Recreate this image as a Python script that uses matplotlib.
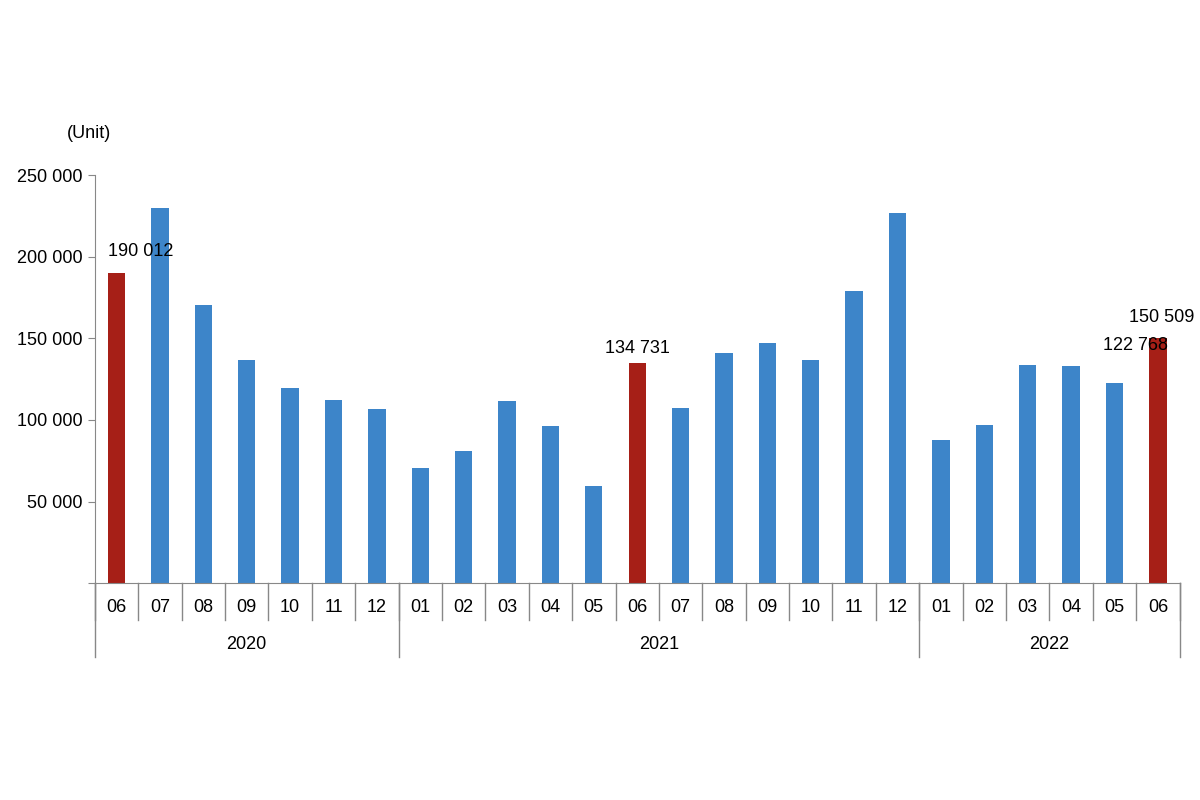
import numpy as np
import matplotlib; matplotlib.use('Agg')
import matplotlib.pyplot as plt
from matplotlib.transforms import blended_transform_factory

plt.rcParams['font.family'] = ['Liberation Sans', 'DejaVu Sans']

months = ['06','07','08','09','10','11','12',
          '01','02','03','04','05','06','07','08','09','10','11','12',
          '01','02','03','04','05','06']
years = ['2020', '2021', '2022']
year_sizes = [7, 12, 6]
values = [190012, 230000, 170300, 136600, 119500, 112100, 106600,
          70500, 80900, 111500, 96200, 59400, 134731, 107200, 140900, 147000, 136600, 178900, 226700,
          87600, 96800, 133600, 133000, 122768, 150509]
highlight = [0, 12, 24]
labelled = {0: '190 012', 12: '134 731', 23: '122 768', 24: '150 509'}
# label offsets in pixels (dx, dy) relative to bar top
offsets = {0: (24, 22), 12: (0, 15), 23: (21, 37), 24: (4, 20)}

BLUE, RED = '#3D85C9', '#A61F17'
fig = plt.figure(figsize=(12, 8), dpi=100)
ax = fig.add_axes([0.079, 0.271, 0.904, 0.51])
x = np.arange(len(values))
cols = [RED if i in highlight else BLUE for i in x]
ax.bar(x, values, width=0.4, color=cols)
for i, t in labelled.items():
    dx, dy = offsets[i]
    ax.annotate(t, (x[i], values[i]), xytext=(dx * 0.72, dy * 0.72), textcoords='offset points',
                ha='center', va='center', fontsize=13)
ax.set_xlim(-0.5, len(values) - 0.5)
ax.set_ylim(0, 250000)
ax.set_yticks(range(0, 250001, 50000))
ax.set_yticklabels(['' if v == 0 else f'{v:,}'.replace(',', ' ') for v in range(0, 250001, 50000)], fontsize=13)
ax.tick_params(axis='y', length=5, color='#888888')
ax.set_xticks([])
for s in ['top', 'right']:
    ax.spines[s].set_visible(False)
for s in ['left', 'bottom']:
    ax.spines[s].set_color('#888888')
ax.text(-0.026, 1.09, '(Unit)', transform=ax.transAxes, fontsize=13, ha='left')

tr = blended_transform_factory(ax.transData, ax.transAxes)
kw = dict(transform=tr, clip_on=False, color='#888888', lw=1)
for i, m in enumerate(months):
    ax.text(i, -0.06, m, transform=tr, ha='center', va='center', fontsize=13)
for b in np.arange(len(values) + 1) - 0.5:
    ax.plot([b, b], [0, -0.09], **kw)
start = 0
bounds = [-0.5]
for y, n in zip(years, year_sizes):
    ax.text(start + (n - 1) / 2, -0.15, y, transform=tr, ha='center', va='center', fontsize=13)
    start += n
    bounds.append(start - 0.5)
for b in bounds:
    ax.plot([b, b], [0, -0.18], **kw)
fig.savefig('out.png')
